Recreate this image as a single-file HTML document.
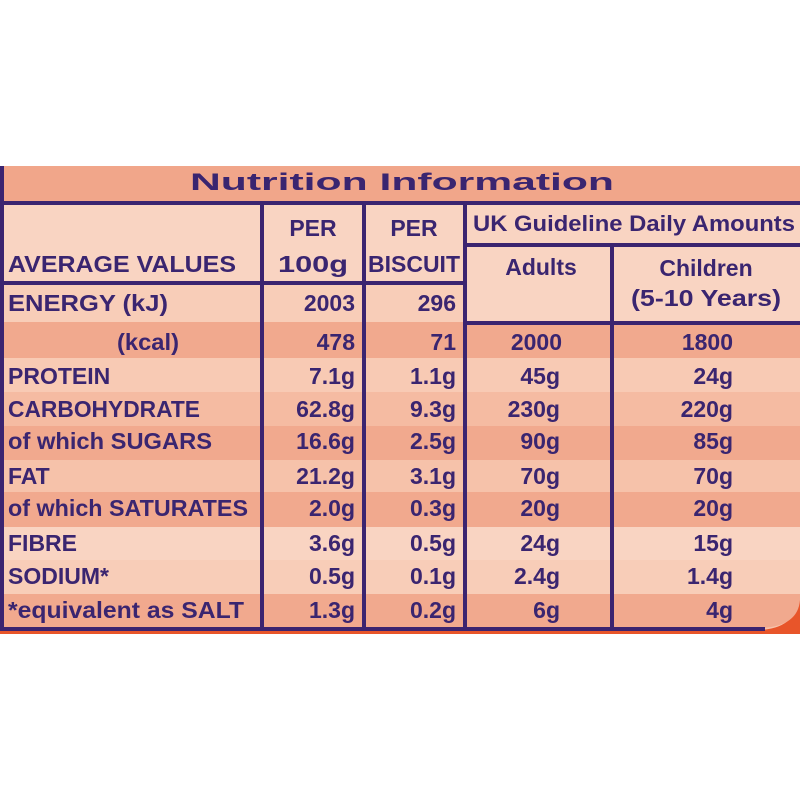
<!DOCTYPE html>
<html><head><style>
html,body{margin:0;padding:0;background:#fff;}
svg{display:block}
text{font-family:"Liberation Sans",sans-serif;font-weight:bold;fill:#3a2570;}
</style></head><body>
<svg width="800" height="800" viewBox="0 0 800 800">
<rect x="0" y="0" width="800" height="800" fill="#fff"/>
<!-- orange outer -->
<rect x="0" y="166" width="800" height="468" fill="#e8552a"/>
<path d="M0 166 H800 V590 Q800 628 760 630 H0 Z" fill="#f6c3ab"/>
<!-- bands -->
<rect x="0" y="166" width="800" height="37" fill="#f1a68a"/>
<rect x="0" y="203" width="800" height="120" fill="#f9d4c2"/>
<rect x="0" y="283" width="466" height="39" fill="#f8cdb8"/>
<rect x="0" y="322" width="800" height="36" fill="#f1a98e"/>
<rect x="0" y="358" width="800" height="34" fill="#f8cab4"/>
<rect x="0" y="392" width="800" height="34" fill="#f5bba2"/>
<rect x="0" y="426" width="800" height="34" fill="#f1a98e"/>
<rect x="0" y="460" width="800" height="32" fill="#f6c2aa"/>
<rect x="0" y="492" width="800" height="35" fill="#f1a98e"/>
<rect x="0" y="527" width="800" height="33" fill="#f9d4c2"/>
<rect x="0" y="560" width="800" height="34" fill="#f8cdb8"/>
<path d="M0 594 H800 V600 Q798 626 762 628 H0 Z" fill="#f1a98e"/>
<!-- lines -->
<g stroke="#3b2470" stroke-width="4" fill="none">
<line x1="0" y1="203" x2="800" y2="203"/>
<line x1="0" y1="283" x2="465" y2="283"/>
<line x1="465" y1="245" x2="800" y2="245"/>
<line x1="465" y1="323" x2="800" y2="323"/>
<line x1="2" y1="166" x2="2" y2="630"/>
<line x1="262" y1="203" x2="262" y2="630"/>
<line x1="364" y1="203" x2="364" y2="630"/>
<line x1="465" y1="203" x2="465" y2="630"/>
<line x1="612" y1="245" x2="612" y2="630"/>
<line x1="0" y1="629" x2="765" y2="629"/>
</g>
<text x="190" y="190" font-size="24" textLength="424" lengthAdjust="spacingAndGlyphs" style="font-weight:900">Nutrition Information</text>
<text x="8" y="272" font-size="23" textLength="228" lengthAdjust="spacingAndGlyphs">AVERAGE VALUES</text>
<text x="313" y="236" font-size="23" text-anchor="middle">PER</text>
<text x="313" y="272" font-size="23" text-anchor="middle" textLength="70" lengthAdjust="spacingAndGlyphs">100g</text>
<text x="414" y="236" font-size="23" text-anchor="middle">PER</text>
<text x="414" y="272" font-size="23" text-anchor="middle" textLength="92" lengthAdjust="spacingAndGlyphs">BISCUIT</text>
<text x="473" y="231" font-size="22" textLength="322" lengthAdjust="spacingAndGlyphs">UK Guideline Daily Amounts</text>
<text x="541" y="275" font-size="23" text-anchor="middle">Adults</text>
<text x="706" y="276" font-size="23" text-anchor="middle">Children</text>
<text x="706" y="306" font-size="23" text-anchor="middle" textLength="150" lengthAdjust="spacingAndGlyphs">(5-10 Years)</text>
<g font-size="23" style="font-weight:600">
<text x="8" y="311" textLength="160" lengthAdjust="spacingAndGlyphs">ENERGY (kJ)</text>
<text x="117" y="350" textLength="62" lengthAdjust="spacingAndGlyphs">(kcal)</text>
<text x="8" y="384">PROTEIN</text>
<text x="8" y="417" textLength="192" lengthAdjust="spacingAndGlyphs">CARBOHYDRATE</text>
<text x="8" y="449" textLength="204" lengthAdjust="spacingAndGlyphs">of which SUGARS</text>
<text x="8" y="484">FAT</text>
<text x="8" y="516" textLength="240" lengthAdjust="spacingAndGlyphs">of which SATURATES</text>
<text x="8" y="551">FIBRE</text>
<text x="8" y="584">SODIUM*</text>
<text x="8" y="618" textLength="236" lengthAdjust="spacingAndGlyphs">*equivalent as SALT</text>
</g>
<g font-size="23" style="font-weight:600" text-anchor="end">
<text x="355" y="311">2003</text><text x="456" y="311">296</text>
<text x="355" y="350">478</text><text x="456" y="350">71</text><text x="562" y="350">2000</text><text x="733" y="350">1800</text>
<text x="355" y="384">7.1g</text><text x="456" y="384">1.1g</text><text x="560" y="384">45g</text><text x="733" y="384">24g</text>
<text x="355" y="417">62.8g</text><text x="456" y="417">9.3g</text><text x="560" y="417">230g</text><text x="733" y="417">220g</text>
<text x="355" y="449">16.6g</text><text x="456" y="449">2.5g</text><text x="560" y="449">90g</text><text x="733" y="449">85g</text>
<text x="355" y="484">21.2g</text><text x="456" y="484">3.1g</text><text x="560" y="484">70g</text><text x="733" y="484">70g</text>
<text x="355" y="516">2.0g</text><text x="456" y="516">0.3g</text><text x="560" y="516">20g</text><text x="733" y="516">20g</text>
<text x="355" y="551">3.6g</text><text x="456" y="551">0.5g</text><text x="560" y="551">24g</text><text x="733" y="551">15g</text>
<text x="355" y="584">0.5g</text><text x="456" y="584">0.1g</text><text x="560" y="584">2.4g</text><text x="733" y="584">1.4g</text>
<text x="355" y="618">1.3g</text><text x="456" y="618">0.2g</text><text x="560" y="618">6g</text><text x="733" y="618">4g</text>
</g>
</svg>
</body></html>
